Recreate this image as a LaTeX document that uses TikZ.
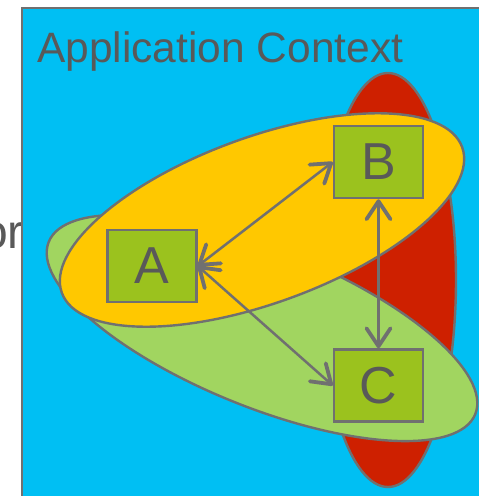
\documentclass[tikz,border=0pt]{standalone}
\usepackage{fontspec}
\setmainfont{Liberation Sans}
\usetikzlibrary{arrows.meta}
\definecolor{ctxblue}{RGB}{0,191,243}
\definecolor{edgegray}{RGB}{112,112,112}
\definecolor{textgray}{RGB}{89,89,89}
\definecolor{redset}{RGB}{206,32,0}
\definecolor{yellowset}{RGB}{255,200,0}
\definecolor{greenset}{RGB}{161,213,96}
\definecolor{compgreen}{RGB}{155,194,30}
\tikzset{
  setshape/.style={draw=edgegray, line width=2.4pt},
  comp/.style={draw=edgegray, line width=2.6pt, fill=compgreen,
    minimum width=89pt, minimum height=72pt, inner sep=0pt,
    text=textgray, font=\fontsize{52}{52}\selectfont},
  link/.style={draw=edgegray, line width=2.5pt,
    >={Straight Barb[length=18pt,width=24pt,line width=3.8pt,round]}, <->}
}
\begin{document}
\begin{tikzpicture}[x=1pt,y=-1pt]
  \useasboundingbox (0,0) rectangle (479,496);
  \begin{scope}
    \clip (0,0) rectangle (479,496);
    % label partly hidden behind the frame
    \node[anchor=base east, inner sep=0pt, text=textgray,
      font=\fontsize{48}{48}\selectfont] (lbl) at (24,248) {or};
    % context frame
    \draw[fill=ctxblue, draw=edgegray, line width=2pt] (22,8) rectangle (520,540);
    \node[anchor=base west, inner sep=0pt, text=textgray,
      font=\fontsize{42.5}{42.5}\selectfont] (title) at (37,62) {Application Context};
    % overlapping sets
    \draw[setshape, fill=redset] (388,280) ellipse [x radius=68pt, y radius=207pt];
    \draw[setshape, fill=greenset] (262,328) [rotate around={-22:(262,328)}] ellipse [x radius=230pt, y radius=79pt];
    \draw[setshape, fill=yellowset] (262,220) [rotate around={20:(262,220)}] ellipse [x radius=213pt, y radius=83pt];
  \end{scope}
  % components
  \node[comp] (A) at (152,266) {A};
  \node[comp] (B) at (378.5,162) {B};
  \node[comp] (C) at (378.5,385.5) {C};
  % connectors
  \draw[link] (A.east) -- (B.west);
  \draw[link] (A.east) -- (C.west);
  \draw[link] (B.south) -- (C.north);
\end{tikzpicture}
\end{document}
